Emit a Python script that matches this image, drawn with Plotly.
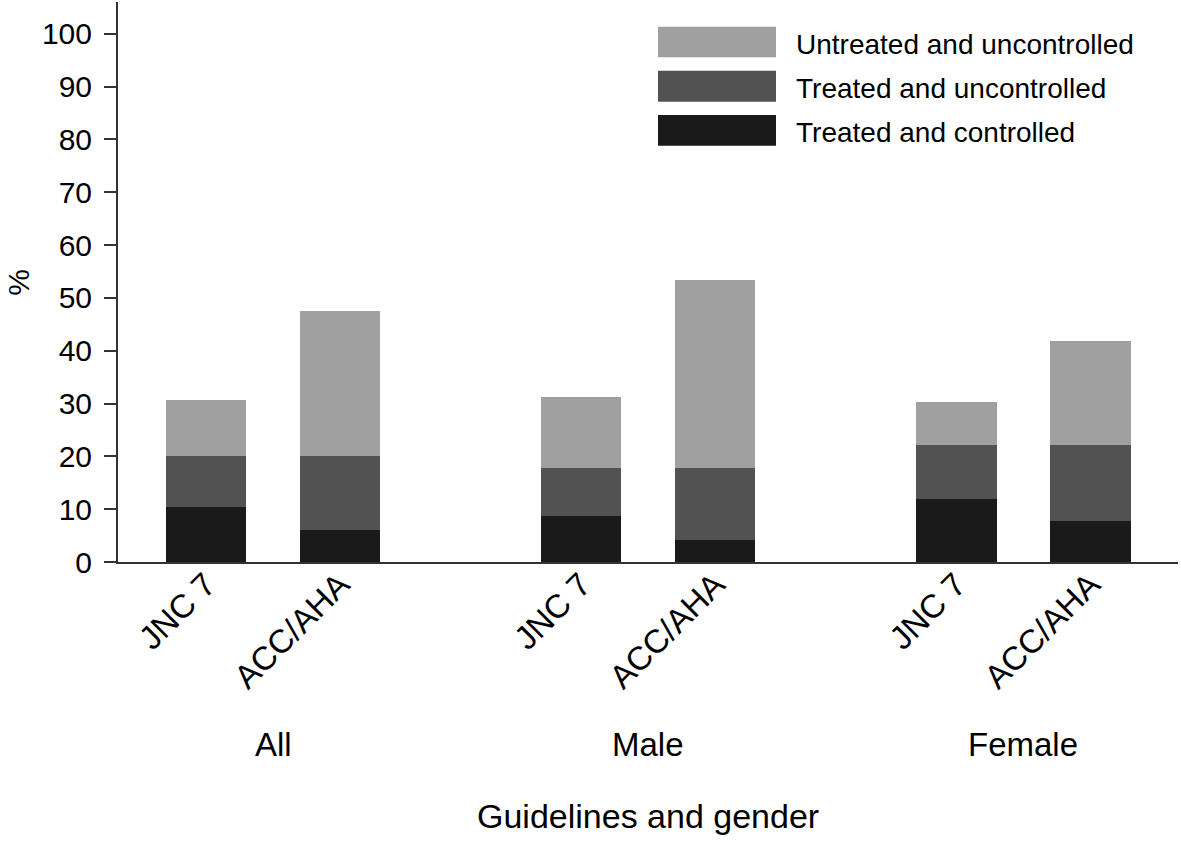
import plotly.graph_objects as go

groups = ["All", "Male", "Female"]
guidelines = ["JNC 7", "ACC/AHA"]
series_names = ["Treated and controlled", "Treated and uncontrolled", "Untreated and uncontrolled"]
series_colors = ["#1a1a1a", "#525252", "#a0a0a0"]

# segment values (bottom to top)
treated_controlled = [10.4, 6.0, 8.7, 4.1, 12.0, 7.8]
treated_uncontrolled = [9.6, 14.0, 9.0, 13.6, 10.2, 14.4]
untreated_uncontrolled = [10.7, 27.5, 13.5, 35.7, 8.1, 19.7]
values = [treated_controlled, treated_uncontrolled, untreated_uncontrolled]

y_ticks = list(range(0, 101, 10))

W, H = 1181, 843
ML, MR, MT, MB = 118, 3, 2, 281.3
PW, PH = W - ML - MR, H - MT - MB

def px(x):
    return (x - ML) / PW

def py(y):
    return (H - MB - y) / PH

GAP = 2.8
xpos = [g * GAP + i for g in range(len(groups)) for i in range(len(guidelines))]
xlabels = [gl for g in groups for gl in guidelines]

FONT = "Liberation Sans, Arial, sans-serif"

fig = go.Figure()
for name, col, vals in zip(series_names, series_colors, values):
    fig.add_trace(go.Bar(x=xpos, y=vals, name=name, marker=dict(color=col, line=dict(width=0)),
                         width=0.6, showlegend=False))

fig.update_layout(
    barmode="stack",
    width=W, height=H,
    margin=dict(l=ML, r=MR, t=MT, b=MB, pad=0),
    paper_bgcolor="white", plot_bgcolor="white",
    font=dict(family=FONT, color="black"),
    xaxis=dict(range=[-0.657, 7.254], tickvals=xpos, ticktext=xlabels, tickangle=-45,
               showgrid=False, zeroline=False, showline=True, linecolor="#333333", linewidth=2,
               ticks="", ticklabelstandoff=-12,
               tickfont=dict(size=33, family=FONT, color="black")),
    yaxis=dict(range=[0, 106], tickvals=y_ticks, showgrid=False, zeroline=False,
               showline=True, linecolor="#333333", linewidth=2, ticks="outside", ticklen=12,
               tickwidth=2, tickcolor="#333333", ticklabelstandoff=6,
               tickfont=dict(size=30, family=FONT, color="black")),
)

# group labels
for g, name in enumerate(groups):
    fig.add_annotation(x=g * GAP + 0.5, xref="x", y=py(744), yref="paper", text=name,
                       showarrow=False, xanchor="center", yanchor="middle",
                       font=dict(size=33, family=FONT, color="black"))

# axis titles
fig.add_annotation(x=0.5, xref="paper", y=py(816), yref="paper", text="Guidelines and gender",
                   showarrow=False, xanchor="center", yanchor="middle",
                   font=dict(size=34, family=FONT, color="black"))
fig.add_annotation(x=px(0), xref="paper", y=py(282), yref="paper", text="%", textangle=-90,
                   showarrow=False, xanchor="left", yanchor="middle",
                   font=dict(size=30, family=FONT, color="black"))

# custom legend
legend_rows = [(2, 26.7, 57.3), (1, 70.7, 101.7), (0, 115, 145.7)]
for idx, y0, y1 in legend_rows:
    fig.add_shape(type="rect", xref="paper", yref="paper", x0=px(658), x1=px(776),
                  y0=py(y1), y1=py(y0), fillcolor=series_colors[idx], line=dict(width=0))
    fig.add_annotation(x=px(794), xref="paper", y=py((y0 + y1) / 2 + 2), yref="paper",
                       text=series_names[idx], showarrow=False, xanchor="left", yanchor="middle",
                       font=dict(size=28, family=FONT, color="black"))

fig.write_html("out.html", config={"displayModeBar": False},
               post_script="document.body.style.margin='0px';")
